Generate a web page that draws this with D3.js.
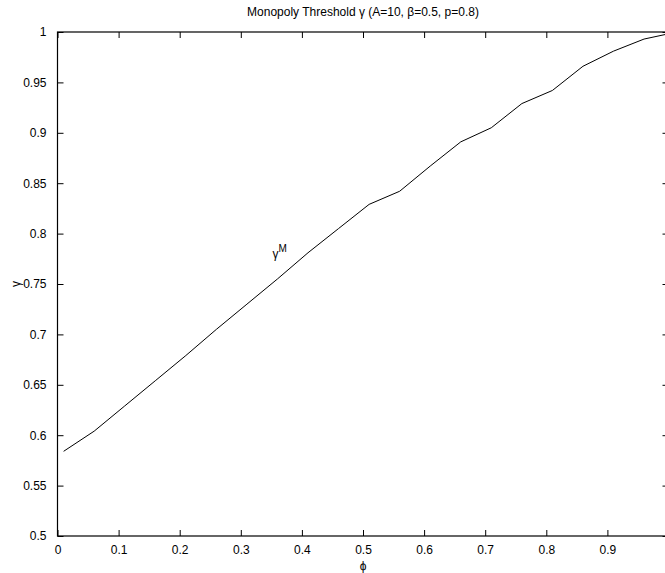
<!DOCTYPE html>
<html>
<head>
<meta charset="utf-8">
<script src="https://cdn.jsdelivr.net/npm/d3@7"></script>
<style>
    body { margin: 0; background: #fff; }
    svg { display: block; font-family: "Liberation Sans", Arial, Helvetica, sans-serif; }
</style>
</head>
<body>
<div id="chart"></div>
<script>
    // data
    phi = [0.01, 0.06, 0.11, 0.16, 0.21, 0.26, 0.31, 0.36, 0.41, 0.46, 0.51,
           0.56, 0.61, 0.66, 0.71, 0.76, 0.81, 0.86, 0.91, 0.96, 1.01]
    gamma = [0.584, 0.604, 0.629, 0.654, 0.679, 0.705, 0.730, 0.755, 0.781, 0.805, 0.829,
             0.842, 0.867, 0.891, 0.905, 0.929, 0.942, 0.966, 0.981, 0.993, 0.9995]
    xTicks = [0, 0.1, 0.2, 0.3, 0.4, 0.5, 0.6, 0.7, 0.8, 0.9, 1]
    yTicks = [0.5, 0.55, 0.6, 0.65, 0.7, 0.75, 0.8, 0.85, 0.9, 0.95, 1]
    titleText = "Monopoly Threshold \u03b3 (A=10, \u03b2=0.5, p=0.8)"
    xLabel = "\u03d5"
    yLabel = "\u03b3"
    annot = {x: 0.352, y: 0.776}

    canvas = ({width: 665, height: 573})
    box = ({left: 57.5, right: 668.5, top: 32, bottom: 536})

    x = d3.scaleLinear().domain([0, 1]).range([box.left, box.right])
    y = d3.scaleLinear().domain([0.5, 1]).range([box.bottom, box.top])

    var svg = d3.select("#chart").append("svg")
        .attr("width", canvas.width)
        .attr("height", canvas.height)

    svg.append("clipPath").attr("id", "clip")
        .append("rect")
        .attr("x", box.left).attr("y", box.top)
        .attr("width", box.right - box.left).attr("height", box.bottom - box.top)

    tickLen = 6

    // bottom axis (ticks inward)
    svg.append("g")
        .attr("transform", `translate(0,${box.bottom})`)
        .call(d3.axisBottom(x).tickValues(xTicks).tickSizeInner(-tickLen).tickSizeOuter(0)
            .tickPadding(tickLen + 3).tickFormat(d => d === 1 ? "" : d3.format("")(d)))
        .call(g => g.select(".domain").remove())
    // top ticks
    svg.append("g")
        .attr("transform", `translate(0,${box.top})`)
        .call(d3.axisTop(x).tickValues(xTicks).tickSizeInner(-tickLen).tickSizeOuter(0).tickFormat(""))
        .call(g => g.select(".domain").remove())
    // left axis
    svg.append("g")
        .attr("transform", `translate(${box.left},0)`)
        .call(d3.axisLeft(y).tickValues(yTicks).tickSizeInner(-tickLen).tickSizeOuter(0)
            .tickPadding(tickLen + 5).tickFormat(d3.format("")))
        .call(g => g.select(".domain").remove())
    // right ticks
    svg.append("g")
        .attr("transform", `translate(${box.right},0)`)
        .call(d3.axisRight(y).tickValues(yTicks).tickSizeInner(-tickLen).tickSizeOuter(0).tickFormat(""))
        .call(g => g.select(".domain").remove())

    svg.selectAll(".tick line").attr("stroke", "#000")
    svg.selectAll(".tick text").attr("fill", "#000").attr("font-size", 12)
        .attr("font-family", "'Liberation Sans', Arial, sans-serif")

    // axes box
    svg.append("rect")
        .attr("x", box.left).attr("y", box.top)
        .attr("width", box.right - box.left).attr("height", box.bottom - box.top)
        .attr("fill", "none").attr("stroke", "#000").attr("stroke-width", 1.2)

    // curve
    line = d3.line().x(d => x(d[0])).y(d => y(d[1]))
    svg.append("path")
        .attr("clip-path", "url(#clip)")
        .attr("fill", "none")
        .attr("stroke", "#000")
        .attr("stroke-width", 1)
        .attr("stroke-linejoin", "round")
        .attr("d", line(d3.zip(phi, gamma)))

    // gamma^M label
    var t = svg.append("text")
        .attr("x", x(annot.x)).attr("y", y(annot.y))
        .attr("font-size", 12)
    t.append("tspan").text("\u03b3")
    t.append("tspan").attr("dy", -6).attr("font-size", 10).text("M")

    // title and axis labels
    svg.append("text")
        .attr("x", (box.left + box.right) / 2).attr("y", 16)
        .attr("text-anchor", "middle").attr("font-size", 12)
        .text(titleText)

    svg.append("text")
        .attr("x", (box.left + box.right) / 2).attr("y", 570)
        .attr("text-anchor", "middle").attr("font-size", 12)
        .text(xLabel)

    svg.append("text")
        .attr("transform", `translate(20,${(box.top + box.bottom) / 2}) rotate(-90)`)
        .attr("text-anchor", "middle").attr("font-size", 12)
        .text(yLabel)
</script>
</body>
</html>
